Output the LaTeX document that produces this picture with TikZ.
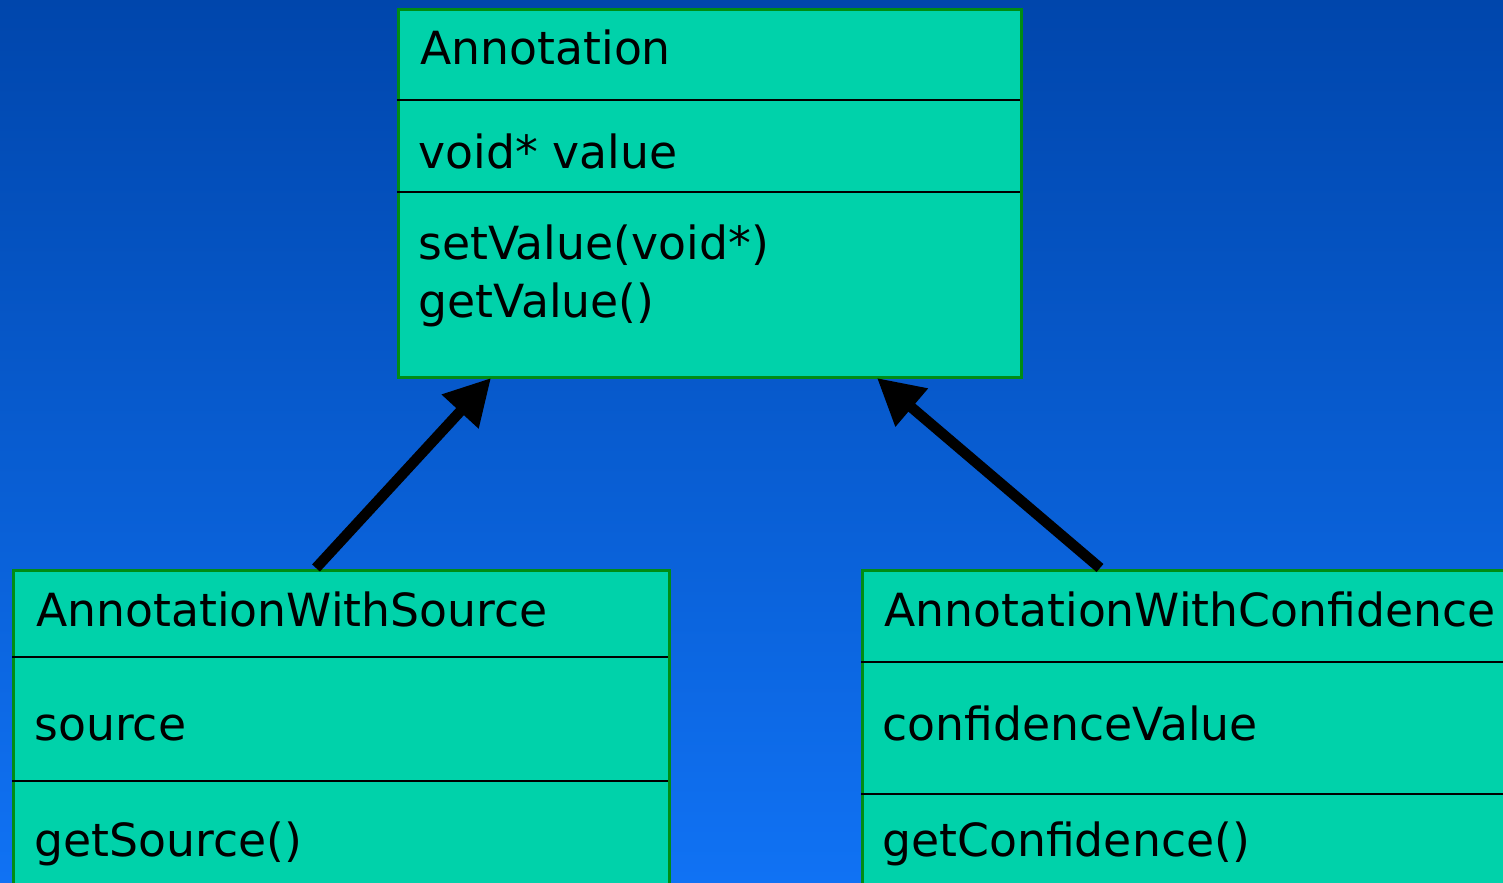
\documentclass[tikz,border=0pt]{standalone}
\usepackage{fontspec}
\setmainfont{DejaVu Sans}
\usetikzlibrary{arrows.meta}
\definecolor{bgtop}{RGB}{0,70,172}
\definecolor{bgbot}{RGB}{16,114,244}
\definecolor{teal}{RGB}{0,210,170}
\definecolor{bordergreen}{RGB}{0,140,20}
\tikzset{
  classbox/.style={draw=bordergreen, fill=teal, line width=1.7pt, inner sep=0pt, anchor=north west},
  divider/.style={draw=black, line width=1.1pt},
  lbl/.style={anchor=base west, inner sep=0pt, font=\fontsize{26}{33}\selectfont, text=black},
  inherit/.style={line width=6pt, -{Triangle[length=26pt,width=27pt]}, black}
}
\begin{document}
\begin{tikzpicture}[x=0.02cm,y=-0.02cm]
\useasboundingbox (0,0) rectangle (1503,882);
\clip (0,0) rectangle (1503,882);
\shade[top color=bgtop, bottom color=bgbot] (0,0) rectangle (1503,882);
% boxes
\node[classbox, minimum width=12.46cm, minimum height=7.36cm] (ann) at (397,8) {};
\node[classbox, minimum width=13.12cm, minimum height=7cm] (aws) at (12,569) {};
\node[classbox, minimum width=14cm, minimum height=7cm] (awc) at (861,569) {};
% dividers
\draw[divider] (397,100) -- (1020,100);
\draw[divider] (397,192) -- (1020,192);
\draw[divider] (12,657) -- (668,657);
\draw[divider] (12,781) -- (668,781);
\draw[divider] (861,662) -- (1503,662);
\draw[divider] (861,794) -- (1503,794);
% texts
\node[lbl] (annname) at (420,65) {Annotation};
\node[lbl] (annattr) at (418,168) {void* value};
\node[lbl] (annop1) at (418,259) {setValue(void*)};
\node[lbl] (annop2) at (418,317) {getValue()};
\node[lbl] (awsname) at (36,626) {AnnotationWithSource};
\node[lbl] (awsattr) at (34,740) {source};
\node[lbl] (awsops) at (34,856) {getSource()};
\node[lbl] (awcname) at (884,626) {AnnotationWithConfidence};
\node[lbl] (awcattr) at (882,740) {confidenceValue};
\node[lbl] (awcops) at (882,856) {getConfidence()};
% connectors
\coordinate (ls) at (316,568);
\coordinate (lt) at (491,378);
\coordinate (rs) at (1100,568);
\coordinate (rt) at (877,378);
\draw[inherit] (ls) -- (lt);
\draw[inherit] (rs) -- (rt);
\end{tikzpicture}
\end{document}
